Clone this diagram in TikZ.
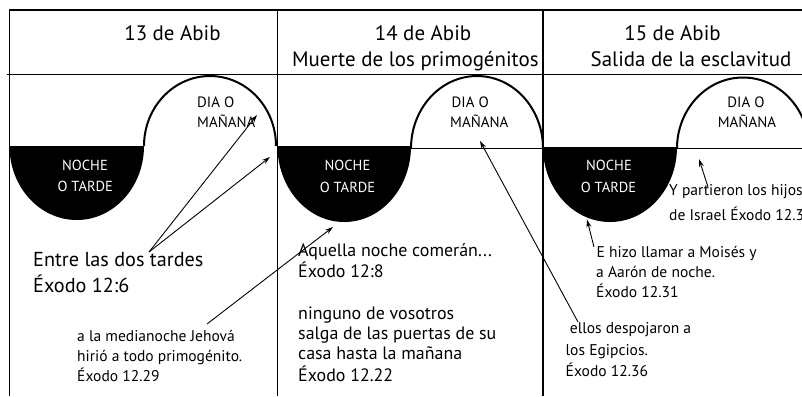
\documentclass[tikz,border=0pt]{standalone}
\usepackage{fontspec}
\setmainfont{PT Sans}
\usetikzlibrary{arrows.meta}
\begin{document}
\begin{tikzpicture}[x=1bp,y=-1bp,
  frame/.style={line width=1.1bp},
  dayarc/.style={line width=2bp},
  ptr/.style={line width=0.9bp,-{Stealth[length=8bp,width=5bp]}},
  hdr/.style={font=\fontsize{21}{25}\selectfont, inner sep=0, anchor=base},
  lblc/.style={font=\fontsize{15}{21}\selectfont, inner sep=0, anchor=base},
  lblw/.style={font=\fontsize{15}{21}\selectfont, inner sep=0, anchor=base west},
  nlbl/.style={font=\fontsize{14.6}{21}\selectfont, inner sep=0, anchor=base, text=white},
  big/.style={font=\fontsize{20.3}{26.7}\selectfont, inner sep=0, anchor=base west},
  med/.style={font=\fontsize{18}{20.5}\selectfont, inner sep=0, anchor=base west},
  sml/.style={font=\fontsize{15.6}{20.3}\selectfont, inner sep=0, anchor=base west},
]
\useasboundingbox (0,0) rectangle (802,396);
\clip (0,0) rectangle (802,396);

% night half-disks
\fill (9.5,146) arc[start angle=180,end angle=0,x radius=67.25,y radius=74] -- cycle;
\fill (277.5,146) arc[start angle=180,end angle=0,x radius=66.75,y radius=76] -- cycle;
\fill (543,147) arc[start angle=180,end angle=0,x radius=67,y radius=75] -- cycle;

% day arcs
\draw[dayarc] (144,146) arc[start angle=180,end angle=360,x radius=66,y radius=70];
\draw[dayarc] (411,148.5) arc[start angle=180,end angle=360,x radius=66,y radius=72.5];
\draw[dayarc] (677,148.5) arc[start angle=180,end angle=360,x radius=66,y radius=71];
\draw[frame] (411,148.5) -- (543,148.5);
\draw[frame] (677,148.5) -- (802,148.5);

% frame
\draw[frame] (9,10) -- (802,10);
\draw[frame] (7,74.5) -- (802,74.5);
\draw[frame] (9.5,10) -- (9.5,396);
\draw[frame] (277.5,10) -- (277.5,396);
\draw[frame] (543,10) -- (543,396);

% headers
\node[hdr] (h13) at (172.5,40.7) {13 de Abib};
\node[hdr] (h14) at (423,40.7) {14 de Abib};
\node[hdr] (h14b) at (415.3,66) {Muerte de los primogénitos};
\node[hdr] (h15) at (672.5,40.7) {15 de Abib};
\node[hdr] (h15b) at (691,66) {Salida de la esclavitud};

% day labels
\node[lblw] (d1a) at (197,107.3) {DIA O};
\node[lblw] (d1b) at (197,127.7) {MAÑANA};
\node[lblw] (d2a) at (451.5,107) {DIA O};
\node[lblw] (d2b) at (450,127.7) {MAÑANA};
\node[lblc] (d3a) at (746,107) {DIA O};
\node[lblc] (d3b) at (747,127.7) {MAÑANA};

% night labels
\node[nlbl] (n1a) at (85,170) {NOCHE};
\node[nlbl] (n1b) at (85.3,191.7) {O TARDE};
\node[nlbl] (n2a) at (347.5,170) {NOCHE};
\node[nlbl] (n2b) at (347.5,192) {O TARDE};
\node[nlbl] (n3a) at (609,170) {NOCHE};
\node[nlbl] (n3b) at (608.5,192) {O TARDE};

% texts
\node[big] (e1) at (33,266) {Entre las dos tardes};
\node[big] (e2) at (33,292.7) {Éxodo 12:6};

\node[sml] (m1) at (77,341) {a la medianoche Jehová};
\node[sml] (m2) at (77,361.3) {hirió a todo primogénito.};
\node[sml] (m3) at (77,381.7) {Éxodo 12.29};

\node[med] (a1) at (298,256.7) {Aquella noche comerán...};
\node[med] (a2) at (298,277.3) {Éxodo 12:8};

\node[med] (v1) at (298,319.3) {ninguno de vosotros};
\node[med] (v2) at (298,339.5) {salga de las puertas de su};
\node[med] (v3) at (298,359.8) {casa hasta la mañana};
\node[med] (v4) at (298,381.7) {Éxodo 12.22};

\node[sml] (s1) at (565.5,333.3) {\ ellos despojaron a};
\node[sml] (s2) at (565.5,355) {los Egipcios.};
\node[sml] (s3) at (565.5,376.7) {Éxodo 12.36};

\node[sml] (l1) at (596.5,257.3) {E hizo llamar a Moisés y};
\node[sml] (l2) at (596,277.7) {a Aarón de noche.};
\node[sml] (l3) at (596,297.3) {Éxodo 12.31};

\node[sml] (p1) at (669,195.5) {Y partieron los hijos};
\node[sml] (p2) at (669,220.5) {de Israel Éxodo 12.37};

% arrow end points
\coordinate (t1) at (149,252);
\coordinate (hA) at (257,115);
\coordinate (hB) at (270,157);
\coordinate (t3) at (207,324);
\coordinate (h3) at (333,227);
\coordinate (t4) at (578,322);
\coordinate (h4) at (480,141);
\coordinate (t5) at (594,247);
\coordinate (h5) at (587,219.5);
\coordinate (t6) at (708,187);
\coordinate (h6) at (699,159);

\draw[ptr] (t1) -- (hA);
\draw[ptr] (t1) -- (hB);
\draw[ptr] (t3) -- (h3);
\draw[ptr] (t4) -- (h4);
\draw[ptr] (t5) -- (h5);
\draw[ptr] (t6) -- (h6);
\end{tikzpicture}
\end{document}
